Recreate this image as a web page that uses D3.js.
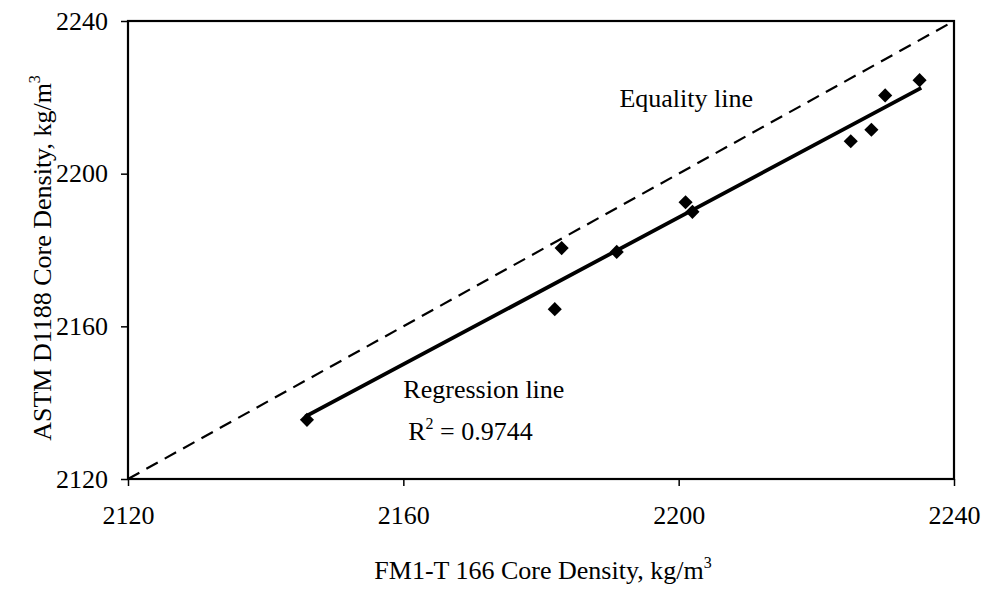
<!DOCTYPE html>
<html>
<head>
<meta charset="utf-8">
<script src="https://cdn.jsdelivr.net/npm/d3@7"></script>
<style>
  html, body { margin: 0; padding: 0; background: #ffffff; }
  svg { display: block; }
  text { font-family: "Liberation Serif", "Times New Roman", serif; fill: #000; }
</style>
</head>
<body>
<script>
// ---- Data ----
const fm1tDensity = [2146, 2182, 2183, 2191, 2201, 2202, 2225, 2228, 2230, 2235];
const astmDensity = [2135.5, 2164.5, 2180.5, 2179.5, 2192.5, 2190, 2208.5, 2211.5, 2220.5, 2224.5];
const xTicks = [2120, 2160, 2200, 2240];
const yTicks = [2120, 2160, 2200, 2240];
const axisDomain = [2120, 2240];
const xTitle = "FM1-T 166 Core Density, kg/m";
const yTitle = "ASTM D1188 Core Density, kg/m";
const equalityLabel = "Equality line";
const regressionLabel = "Regression line";
const r2Label = "0.9744";

const W = 984, H = 592;
const m = { left: 128, top: 21, right: 30, bottom: 113 };
const pw = W - m.left - m.right, ph = H - m.top - m.bottom;

const svg = d3.select("body").append("svg").attr("width", W).attr("height", H);
const g = svg.append("g").attr("transform", `translate(${m.left},${m.top})`);

const x = d3.scaleLinear().domain(axisDomain).range([0, pw]);
const y = d3.scaleLinear().domain(axisDomain).range([ph, 0]);

// Axes
const xAxis = g.append("g").attr("transform", `translate(0,${ph})`)
  .call(d3.axisBottom(x).tickValues(xTicks).tickSize(7).tickPadding(20).tickFormat(d3.format("d")));
const yAxis = g.append("g")
  .call(d3.axisLeft(y).tickValues(yTicks).tickSize(7).tickPadding(13).tickFormat(d3.format("d")));
[xAxis, yAxis].forEach(a => {
  a.select(".domain").remove();
  a.selectAll(".tick line").attr("stroke", "#000").attr("stroke-width", 1.5);
  a.selectAll(".tick text").style("font-family", '"Liberation Serif", serif').style("font-size", "26px").attr("fill", "#000");
});

// Frame
g.append("rect").attr("x", 0).attr("y", 0).attr("width", pw).attr("height", ph)
  .attr("fill", "none").attr("stroke", "#000").attr("stroke-width", 2.2);

// Equality line
g.append("line")
  .attr("x1", x(axisDomain[0])).attr("y1", y(axisDomain[0]))
  .attr("x2", x(axisDomain[1])).attr("y2", y(axisDomain[1]))
  .attr("stroke", "#000").attr("stroke-width", 2.2).attr("stroke-dasharray", "13,8");

// Regression (least squares)
const n = fm1tDensity.length;
const mx = d3.mean(fm1tDensity), my = d3.mean(astmDensity);
let sxy = 0, sxx = 0;
for (let i = 0; i < n; i++) { sxy += (fm1tDensity[i] - mx) * (astmDensity[i] - my); sxx += (fm1tDensity[i] - mx) ** 2; }
const slope = sxy / sxx, intercept = my - slope * mx;
const [xmin, xmax] = d3.extent(fm1tDensity);
g.append("line")
  .attr("x1", x(xmin)).attr("y1", y(slope * xmin + intercept))
  .attr("x2", x(xmax)).attr("y2", y(slope * xmax + intercept))
  .attr("stroke", "#000").attr("stroke-width", 3.8).attr("stroke-linecap", "square");

// Points (diamonds)
const sym = d3.symbol().type(d3.symbolSquare).size(100);
g.selectAll("path.pt").data(fm1tDensity).join("path").attr("class", "pt")
  .attr("d", sym)
  .attr("transform", (d, i) => `translate(${x(d)},${y(astmDensity[i])}) rotate(45)`)
  .attr("fill", "#000");

// Annotations
g.append("text").attr("x", x(2201.1)).attr("y", y(2217.5)).attr("text-anchor", "middle")
  .style("font-size", "26px").text(equalityLabel);
g.append("text").attr("x", x(2171.7)).attr("y", y(2141.2)).attr("text-anchor", "middle")
  .style("font-size", "26px").text(regressionLabel);
const r2 = g.append("text").attr("x", x(2160.7)).attr("y", y(2130.2)).attr("text-anchor", "start")
  .style("font-size", "26px");
r2.append("tspan").text("R");
r2.append("tspan").attr("dy", -11).style("font-size", "16px").text("2");
r2.append("tspan").attr("dy", 11).text(" = " + r2Label);

// Axis titles
const xt = svg.append("text").attr("x", m.left + pw / 2 + 2).attr("y", 579).attr("text-anchor", "middle")
  .style("font-size", "26px");
xt.append("tspan").text(xTitle);
xt.append("tspan").attr("dy", -11).style("font-size", "16px").text("3");

const yt = svg.append("text").attr("transform", `translate(51,${m.top + ph / 2 + 8}) rotate(-90)`)
  .attr("text-anchor", "middle").style("font-size", "26px");
yt.append("tspan").text(yTitle);
yt.append("tspan").attr("dy", -11).style("font-size", "16px").text("3");
</script>
</body>
</html>
